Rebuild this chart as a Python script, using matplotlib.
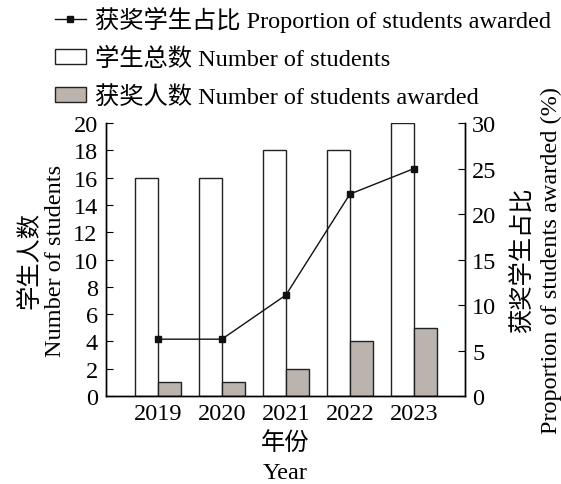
import matplotlib

matplotlib.use("Agg")

import matplotlib.pyplot as plt
import numpy as np
from matplotlib.lines import Line2D
from matplotlib.patches import Patch

years = ["2019", "2020", "2021", "2022", "2023"]
total_students = [16, 16, 18, 18, 20]
awarded_students = [1, 1, 2, 4, 5]
award_ratio = [6.25, 6.25, 11.1, 22.2, 25.0]

plt.rcParams["font.family"] = ["Liberation Serif", "Noto Sans CJK SC"]
plt.rcParams["font.size"] = 17.5
plt.rcParams["axes.linewidth"] = 1.0

bar_face = "#bab3ae"

fig = plt.figure(figsize=(5.61, 4.85), dpi=100)
ax = fig.add_axes([0.189, 0.1814, 0.640, 0.5626])
x = np.arange(len(years))
w = 0.36

ax.bar(x - w / 2, total_students, width=w, color="white", edgecolor="#222222", linewidth=1.0)
ax.bar(x + w / 2, awarded_students, width=w, color=bar_face, edgecolor="#222222", linewidth=1.0)
ax.set_xlim(-0.81, 4.8)
ax.set_ylim(0, 20)
ax.set_yticks(range(0, 21, 2))
ax.set_xticks(x)
ax.set_xticklabels(years)
ax.tick_params(axis="x", length=0, pad=5)
ax.tick_params(axis="y", direction="in", length=5, pad=6)
ax.spines["top"].set_visible(False)
ax.set_xlabel("年份\nYear", linespacing=1.5, labelpad=5)
ax.set_ylabel("学生人数\nNumber of students", linespacing=1.25, labelpad=5)

ax2 = ax.twinx()
ax2.plot(x, award_ratio, color="#111111", linewidth=1.0, marker="s", markersize=5)
ax2.set_ylim(0, 30)
ax2.set_yticks(range(0, 31, 5))
ax2.tick_params(axis="y", direction="in", length=5, pad=5)
ax2.spines["top"].set_visible(False)
ax2.set_ylabel("获奖学生占比\nProportion of students awarded (%)", linespacing=1.4, labelpad=10)

handles = [
    Line2D([], [], color="#111111", linewidth=1.0, marker="s", markersize=5),
    Patch(facecolor="white", edgecolor="#222222", linewidth=1.0),
    Patch(facecolor=bar_face, edgecolor="#222222", linewidth=1.0),
]
labels = [
    "获奖学生占比 Proportion of students awarded",
    "学生总数 Number of students",
    "获奖人数 Number of students awarded",
]
fig.legend(
    handles,
    labels,
    loc="upper left",
    bbox_to_anchor=(0.08, 1.006),
    frameon=False,
    handlelength=1.3,
    handleheight=0.6,
    handletextpad=0.35,
    labelspacing=0.62,
    borderaxespad=0.0,
)

fig.savefig("out.png", dpi=100)
plt.close(fig)
